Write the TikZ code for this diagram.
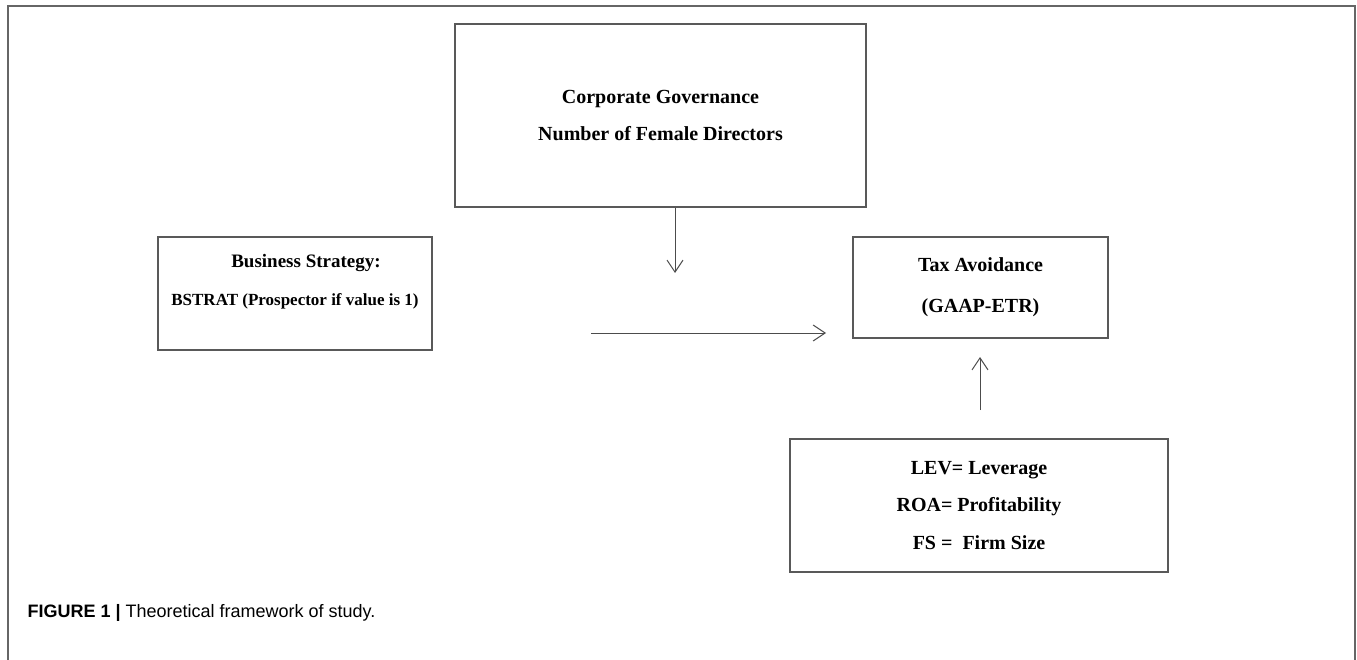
\documentclass[tikz,border=0pt]{standalone}
\usepackage{fontspec}
\setmainfont{Liberation Serif}
\newfontfamily\capfont{Liberation Sans}
\usetikzlibrary{arrows.meta}

\begin{document}
\begin{tikzpicture}[x=1pt,y=-1pt,>={Straight Barb[length=12pt,width=16pt]},
                    line join=miter]

  \tikzstyle{box}=[rectangle,draw=black!65,line width=2pt,align=center,
                   font=\bfseries]
  \tikzstyle{link}=[->,draw=black!70,line width=1pt]
  \tikzstyle{frame}=[draw=black!60,line width=2pt]

  \useasboundingbox (0,0) rectangle (1357,660);
  \draw[frame] (8,660) -- (8,6) -- (1355,6) -- (1355,660);

  \node[box,minimum width=411pt,minimum height=183pt,
        font=\bfseries\fontsize{20}{37}\selectfont] (gov) at (660.5,115.5)
        {Corporate Governance\\Number of Female Directors};
  \node[box,minimum width=274pt,minimum height=113pt] (strat) at (295,293.5) {};
  \node[align=center,font=\bfseries\fontsize{17}{38}\selectfont] (strattext)
        at ([yshift=11.5pt]strat.center)
        {{\fontsize{19}{38}\selectfont\hspace*{22pt}Business Strategy:}\\
         BSTRAT (Prospector if value is 1)};
  \node[box,minimum width=255pt,minimum height=101pt,
        font=\bfseries\fontsize{20}{41}\selectfont] (tax) at (980.5,287.5)
        {Tax Avoidance\\(GAAP-ETR)};
  \node[box,minimum width=378pt,minimum height=133pt,
        font=\bfseries\fontsize{20}{37.5}\selectfont] (ctrl) at (979,505.5)
        {LEV= Leverage\\ROA= Profitability\\FS =\ \ Firm Size};

  \coordinate (govtip) at (675,273);
  \coordinate (stratend) at (591,333);
  \coordinate (taxend) at (826,333);
  \coordinate (ctrlend) at (980,410);
  \coordinate (ctrltip) at (980,357);

  \draw[link] (gov.south -| govtip) -- (govtip);
  \draw[link] (stratend) -- (taxend);
  \draw[link] (ctrlend) -- (ctrltip);

  \node[anchor=base west,font=\capfont\fontsize{18}{21}\selectfont] (caption)
        at (24,617) {\textbf{FIGURE 1 |} Theoretical framework of study.};
\end{tikzpicture}
\end{document}
